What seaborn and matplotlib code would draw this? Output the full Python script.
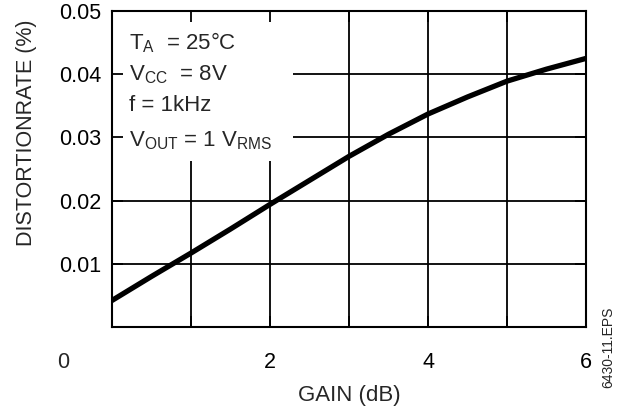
import numpy as np
import pandas as pd
import seaborn as sns
import matplotlib.pyplot as plt
from matplotlib.patches import Rectangle
from matplotlib import transforms

# curve
gain_db = [0.0, 0.5, 1.0, 1.5, 2.0, 2.5, 3.0, 3.5, 4.0, 4.5, 5.0, 5.5, 6.0]
distortion = [0.0042, 0.0080, 0.0117, 0.0155, 0.0194, 0.0232, 0.0270,
              0.0305, 0.0337, 0.0364, 0.0389, 0.0408, 0.0425]

x_ticks = [0, 2, 4, 6]
y_ticks = [0.01, 0.02, 0.03, 0.04, 0.05]
x_grid = [1, 2, 3, 4, 5]
y_grid = [0.01, 0.02, 0.03, 0.04]
conditions = [
    r"T$_\mathregular{A}$  = 25°C",
    r"V$_\mathregular{CC}$  = 8V",
    "f = 1kHz",
    r"V$_\mathregular{OUT}$ = 1 V$_\mathregular{RMS}$",
]

df = pd.DataFrame({"gain": gain_db, "dist": distortion})

sns.set_style("ticks")
plt.rcParams["font.family"] = ["Liberation Sans", "DejaVu Sans"]
plt.rcParams["axes.axisbelow"] = False
plt.rcParams["mathtext.fontset"] = "custom"
plt.rcParams["mathtext.rm"] = "Liberation Sans"

fig = plt.figure(figsize=(6.23, 4.09), dpi=100)
ax = fig.add_axes([0.1798, 0.2005, 0.7608, 0.7726])

for x in x_grid:
    ax.axvline(x, color="black", lw=1.3, zorder=2.1)
for y in y_grid:
    ax.axhline(y, color="black", lw=1.3, zorder=2.1)

# white area behind the operating conditions
ax.add_patch(Rectangle((0, 0.0263), 2.29, 0.05 - 0.0263, facecolor="white",
                       edgecolor="none", zorder=2.2))

sns.lineplot(data=df, x="gain", y="dist", ax=ax, color="black", lw=3.8,
             zorder=2.3, legend=False)

ax.set_xlim(0, 6)
ax.set_ylim(0, 0.05)
ax.set_xticks(x_ticks)
ax.set_xticklabels([""] + [str(t) for t in x_ticks[1:]])
ax.set_xticks(x_grid, minor=True)
ax.set_yticks(y_ticks)
ax.set_yticklabels(["0.01", "0.02", "0.03", "0.04", "0.05"])
ax.tick_params(axis="both", which="both", direction="in", length=8, width=1.3,
               top=True, right=True, labelsize=15.5, colors="black")
ax.tick_params(axis="x", pad=18)
ax.tick_params(axis="y", pad=8)
for s in ax.spines.values():
    s.set_linewidth(1.5)
    s.set_color("black")

# the "0" label sits well left of the axis in the original
ax.text(-0.62, 0, "0", fontsize=15.5, ha="center", va="top",
        transform=transforms.offset_copy(ax.get_xaxis_transform(), fig=fig,
                                         y=-18, units="points"))

ax.set_xlabel("GAIN (dB)", fontsize=16, labelpad=9)
ax.set_ylabel("DISTORTIONRATE (%)", fontsize=15.5)
ax.yaxis.set_label_coords(-0.158, 0.614)

baselines = [0.0440, 0.0390, 0.0341, 0.0286]
for txt, yb in zip(conditions, baselines):
    ax.text(0.215, yb, txt, fontsize=16, ha="left", va="baseline", zorder=3)

fig.text(608 / 623, 1 - 347 / 409, "6430-11.EPS", rotation=90, fontsize=10,
         ha="center", va="center")

fig.savefig("out.png", dpi=100)
